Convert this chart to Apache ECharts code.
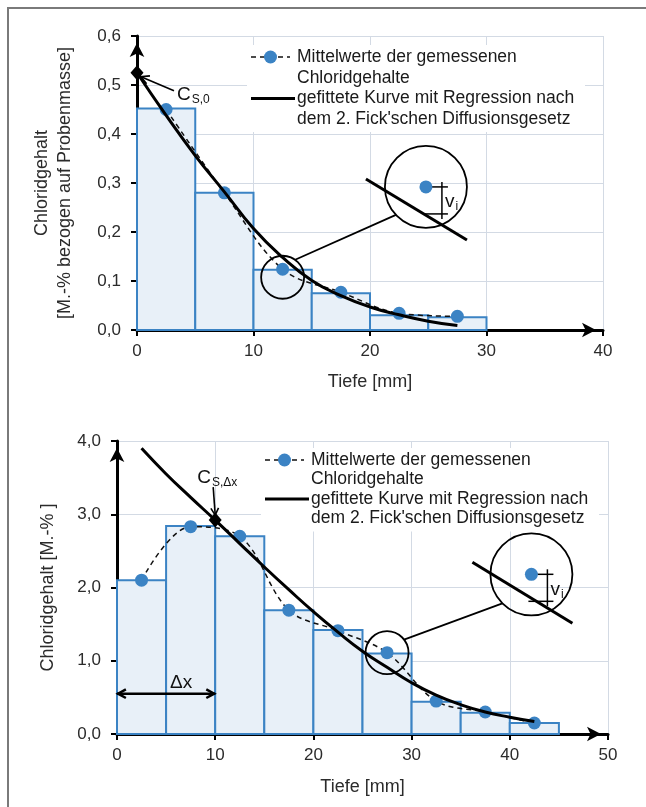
<!DOCTYPE html>
<html lang="de">
<head>
<meta charset="utf-8">
<title>Chloridgehalt - Tiefenprofile</title>
<script src="https://cdn.jsdelivr.net/npm/echarts@6/dist/echarts.min.js"></script>
<style>
    html, body { margin: 0; padding: 0; background: #fff; }
    #chart { width: 646px; height: 807px; }
</style>
</head>
<body>
<div id="chart"></div>
<script>
// ---- oberes Diagramm ----
var binStart1 = [0, 5, 10, 15, 20, 25];
var binEnd1 = [5, 10, 15, 20, 25, 30];
var binValues1 = [0.452, 0.280, 0.123, 0.075, 0.030, 0.026];
var meanDepth1 = [2.5, 7.5, 12.5, 17.5, 22.5, 27.5];
var meanValues1 = [0.450, 0.280, 0.124, 0.077, 0.034, 0.028];
var fitDepth1 = [0, 2.5, 5, 7.5, 10, 12.5, 15, 17.5, 20, 22.5, 25, 27.5];
var fitValues1 = [0.525, 0.438, 0.356, 0.282, 0.207, 0.148, 0.101, 0.070, 0.047, 0.031, 0.018, 0.009];
var surface1 = [0, 0.525];

// ---- unteres Diagramm ----
var binStart2 = [0, 5, 10, 15, 20, 25, 30, 35, 40];
var binEnd2 = [5, 10, 15, 20, 25, 30, 35, 40, 45];
var binValues2 = [2.10, 2.84, 2.70, 1.69, 1.42, 1.10, 0.44, 0.29, 0.15];
var meanDepth2 = [2.5, 7.5, 12.5, 17.5, 22.5, 27.5, 32.5, 37.5, 42.5];
var meanValues2 = [2.10, 2.83, 2.70, 1.69, 1.41, 1.11, 0.45, 0.30, 0.15];
var fitDepth2 = [2.5, 5, 7.5, 10, 12.5, 15, 17.5, 20, 22.5, 25, 27.5, 30, 32.5, 35, 37.5, 40, 42.5];
var fitValues2 = [3.90, 3.55, 3.23, 2.92, 2.60, 2.28, 1.97, 1.67, 1.39, 1.13, 0.91, 0.70, 0.53, 0.40, 0.30, 0.23, 0.17];
var surface2 = [10, 2.92];

// Achsen
var xMax1 = 40, yMax1 = 0.6, yStep1 = 0.1;
var xMax2 = 50, yMax2 = 4, yStep2 = 1;

var legendLines = ['Mittelwerte der gemessenen', 'Chloridgehalte',
    'gefittete Kurve mit Regression nach', 'dem 2. Fick\'schen Diffusionsgesetz'];

var FONT = '"Liberation Sans", Arial, sans-serif';
var BLUE = '#3b83c4';

function zip(a, b) {
    return a.map(function (v, i) { return [v, b[i]]; });
}
function bins(s, e, v) {
    return s.map(function (x, i) { return [x, e[i], v[i]]; });
}
function comma(v) {
    return v.toFixed(1).replace('.', ',');
}

function renderBin(params, api) {
    var p0 = api.coord([api.value(0), api.value(2)]);
    var p1 = api.coord([api.value(1), 0]);
    return {
        type: 'rect',
        shape: {x: p0[0], y: p0[1], width: p1[0] - p0[0], height: p1[1] - p0[1]},
        style: {fill: '#e8f0f8', stroke: BLUE, lineWidth: 2}
    };
}

function xAxis(grid, max, gap) {
    return {
        type: 'value', gridIndex: grid, min: 0, max: max, interval: 10,
        name: 'Tiefe [mm]', nameLocation: 'middle', nameGap: gap, nameMoveOverlap: false,
        nameTextStyle: {fontSize: 18, color: '#2b2b2b', fontFamily: FONT},
        axisLine: {show: true, onZero: false, symbol: ['none', 'arrow'], symbolSize: [11, 14], symbolOffset: [0, -7],
            lineStyle: {color: '#000', width: 3}},
        axisTick: {show: true, inside: false, length: 6, lineStyle: {color: '#000', width: 2}},
        axisLabel: {fontSize: 17, color: '#2b2b2b', margin: 13, fontFamily: FONT},
        splitLine: {show: true, lineStyle: {color: '#d3dae4', width: 1}}
    };
}
function yAxis(grid, max, step, name, gap) {
    return {
        type: 'value', gridIndex: grid, min: 0, max: max, interval: step,
        name: name, nameLocation: 'middle', nameGap: gap, nameRotate: 90, nameMoveOverlap: false,
        nameTextStyle: {fontSize: 18, color: '#2b2b2b', fontFamily: FONT, lineHeight: 23},
        axisLine: {show: true, onZero: false, symbol: ['none', 'arrow'], symbolSize: [11, 14], symbolOffset: [0, -7],
            lineStyle: {color: '#000', width: 3}},
        axisTick: {show: true, inside: false, length: 6, lineStyle: {color: '#000', width: 2}},
        axisLabel: {fontSize: 17, color: '#2b2b2b', margin: 16, fontFamily: FONT, formatter: comma},
        splitLine: {show: true, lineStyle: {color: '#d3dae4', width: 1}}
    };
}

function seriesFor(idx, binData, meanData, fitData, surface) {
    return [
        {type: 'custom', xAxisIndex: idx, yAxisIndex: idx, renderItem: renderBin,
            encode: {x: [0, 1], y: 2}, data: binData, z: 1, silent: true},
        {type: 'line', xAxisIndex: idx, yAxisIndex: idx, data: meanData, smooth: 0.35,
            symbol: 'circle', symbolSize: 13, itemStyle: {color: BLUE},
            lineStyle: {color: '#111', width: 1.5, type: [5, 4]}, z: 3},
        {type: 'line', xAxisIndex: idx, yAxisIndex: idx, data: fitData, smooth: true,
            symbol: 'none', lineStyle: {color: '#000', width: 3}, z: 4},
        {type: 'scatter', xAxisIndex: idx, yAxisIndex: idx, data: [surface],
            symbol: 'diamond', symbolSize: [13, 15], itemStyle: {color: '#000', opacity: 1}, z: 5}
    ];
}

var chart = echarts.init(document.getElementById('chart'), null, {renderer: 'canvas'});

chart.setOption({
    animation: false,
    backgroundColor: '#fff',
    textStyle: {fontFamily: FONT},
    grid: [
        {left: 137, top: 36, width: 466, height: 294, outerBoundsMode: 'none', containLabel: false},
        {left: 117, top: 441, width: 491, height: 293, outerBoundsMode: 'none', containLabel: false}
    ],
    xAxis: [xAxis(0, xMax1, 43), xAxis(1, xMax2, 44)],
    yAxis: [
        yAxis(0, yMax1, yStep1, 'Chloridgehalt\n[M.-% bezogen auf Probenmasse]', 60),
        yAxis(1, yMax2, yStep2, 'Chloridgehalt [M.-% ]', 57)
    ],
    series: seriesFor(0, bins(binStart1, binEnd1, binValues1), zip(meanDepth1, meanValues1),
            zip(fitDepth1, fitValues1), surface1)
        .concat(seriesFor(1, bins(binStart2, binEnd2, binValues2), zip(meanDepth2, meanValues2),
            zip(fitDepth2, fitValues2), surface2))
});

// ---- Beschriftungen, Lupen, Legende ----
function px(grid, pt) {
    return chart.convertToPixel({gridIndex: grid}, pt);
}
function seg(a, b, w) {
    return {type: 'line', z: 10, shape: {x1: a[0], y1: a[1], x2: b[0], y2: b[1]},
        style: {stroke: '#000', lineWidth: w || 1.5}};
}
function head(tip, from, len, w) {
    var ang = Math.atan2(tip[1] - from[1], tip[0] - from[0]);
    var a1 = ang + Math.PI - 0.5, a2 = ang + Math.PI + 0.5;
    return {type: 'polyline', z: 10, shape: {points: [
            [tip[0] + len * Math.cos(a1), tip[1] + len * Math.sin(a1)], tip,
            [tip[0] + len * Math.cos(a2), tip[1] + len * Math.sin(a2)]]},
        style: {stroke: '#000', lineWidth: w, fill: null}};
}
function circle(c, r, w) {
    return {type: 'circle', z: 10, shape: {cx: c[0], cy: c[1], r: r},
        style: {stroke: '#000', lineWidth: w || 1.8, fill: null}};
}
function label(x, y, big, sub) {
    return {type: 'text', z: 10, x: x, y: y, style: {
        text: '{c|' + big + '}{s|' + sub + '}', fill: '#111', verticalAlign: 'middle',
        rich: {
            c: {fontSize: 19, fontFamily: FONT, fill: '#111', lineHeight: 22, verticalAlign: 'middle'},
            s: {fontSize: 12, fontFamily: FONT, fill: '#111', lineHeight: 22, verticalAlign: 'bottom', padding: [0, 0, 0, 1]}
        }}};
}
function off(p, dx, dy) {
    return [p[0] + dx, p[1] + dy];
}

// Lupe: kleiner Kreis um Messpunkt, großer Kreis mit Residuum v_i
function magnifier(grid, point, smallDy, big, lineA, lineB, linkS, linkB) {
    var s = off(px(grid, point), 0, smallDy);
    var b = px(grid, big);
    var d = b;
    return [
        circle(s, 21.5),
        circle(b, 41),
        seg(off(s, linkS[0], linkS[1]), off(b, linkB[0], linkB[1]), 1.8),
        seg(off(b, lineA[0], lineA[1]), off(b, lineB[0], lineB[1]), 3),
        {type: 'circle', z: 11, shape: {cx: d[0], cy: d[1], r: 6.5}, style: {fill: BLUE}},
        seg(d, off(d, 22, 0), 1.5),
        seg(off(d, 16, -5), off(d, 16, 32), 1.5),
        seg(off(d, -3, 27), off(d, 22, 27), 1.5),
        label(d[0] + 19, d[1] + 15, 'v', 'i')
    ];
}

function legend(x, y, gap) {
    var t = x + 46;
    var els = [
        {type: 'rect', z: 8, shape: {x: x - 4, y: y - 12, width: 338, height: 3 * gap + 25}, style: {fill: '#fff'}},
        {type: 'line', z: 9, shape: {x1: x, y1: y, x2: x + 39, y2: y}, style: {stroke: '#111', lineWidth: 1.5, lineDash: [5, 4]}},
        {type: 'circle', z: 9, shape: {cx: x + 19.5, cy: y, r: 6.5}, style: {fill: BLUE}},
        {type: 'line', z: 9, shape: {x1: x, y1: y + 2 * gap, x2: x + 44, y2: y + 2 * gap}, style: {stroke: '#000', lineWidth: 3}}
    ];
    legendLines.forEach(function (txt, i) {
        els.push({type: 'text', z: 9, x: t, y: y + i * gap, style: {
            text: txt, fontSize: 17.5, fontFamily: FONT, fill: '#1a1a1a', verticalAlign: 'middle'}});
    });
    return els;
}

var d1 = px(0, surface1);
var d2 = px(1, surface2);
var dxY = 0.55;
var dx0 = px(1, [0, dxY]), dx1 = px(1, [10, dxY]);

var graphics = []
    // Rahmen
    .concat([
        {type: 'polyline', z: 10, shape: {points: [[8, 807], [8, 8], [646, 8]]}, style: {stroke: '#7a7a7a', lineWidth: 2, fill: null}}
    ])
    .concat(legend(251, 57, 20.7))
    .concat(legend(265, 460, 19.5))
    // C_S,0
    .concat([
        seg(off(d1, 37, 18), off(d1, 4, 4), 1.6),
        head(off(d1, 4, 4), off(d1, 37, 18), 9, 1.6),
        label(d1[0] + 40, d1[1] + 22, 'C', 'S,0')
    ])
    // C_S,Δx
    .concat([
        seg(off(d2, -2, -33), off(d2, 0, -5), 1.6),
        head(off(d2, 0, -5), off(d2, -2, -33), 8, 1.6),
        label(d2[0] - 18, d2[1] - 42, 'C', 'S,Δx')
    ])
    // Δx
    .concat([
        seg(dx0, dx1, 2.5),
        head(off(dx0, 1, 0), dx1, 9, 2.5),
        head(off(dx1, -1, 0), dx0, 9, 2.5),
        {type: 'text', z: 10, x: (dx0[0] + dx1[0]) / 2 + 4, y: dx0[1] - 11, style: {
            text: 'Δx', fontSize: 19, fontFamily: FONT, fill: '#111', verticalAlign: 'middle'}}
    ])
    .concat(magnifier(0, [meanDepth1[2], meanValues1[2]], 8, [24.8, 0.292],
        [-60, -8], [41, 53], [12.5, -17.5], [-30, 28]))
    .concat(magnifier(1, [meanDepth2[5], meanValues2[5]], 0, [42.2, 2.18],
        [-59, -12], [41, 49], [17, -13], [-29, 29]));

chart.setOption({graphic: {elements: graphics}});
</script>
</body>
</html>
